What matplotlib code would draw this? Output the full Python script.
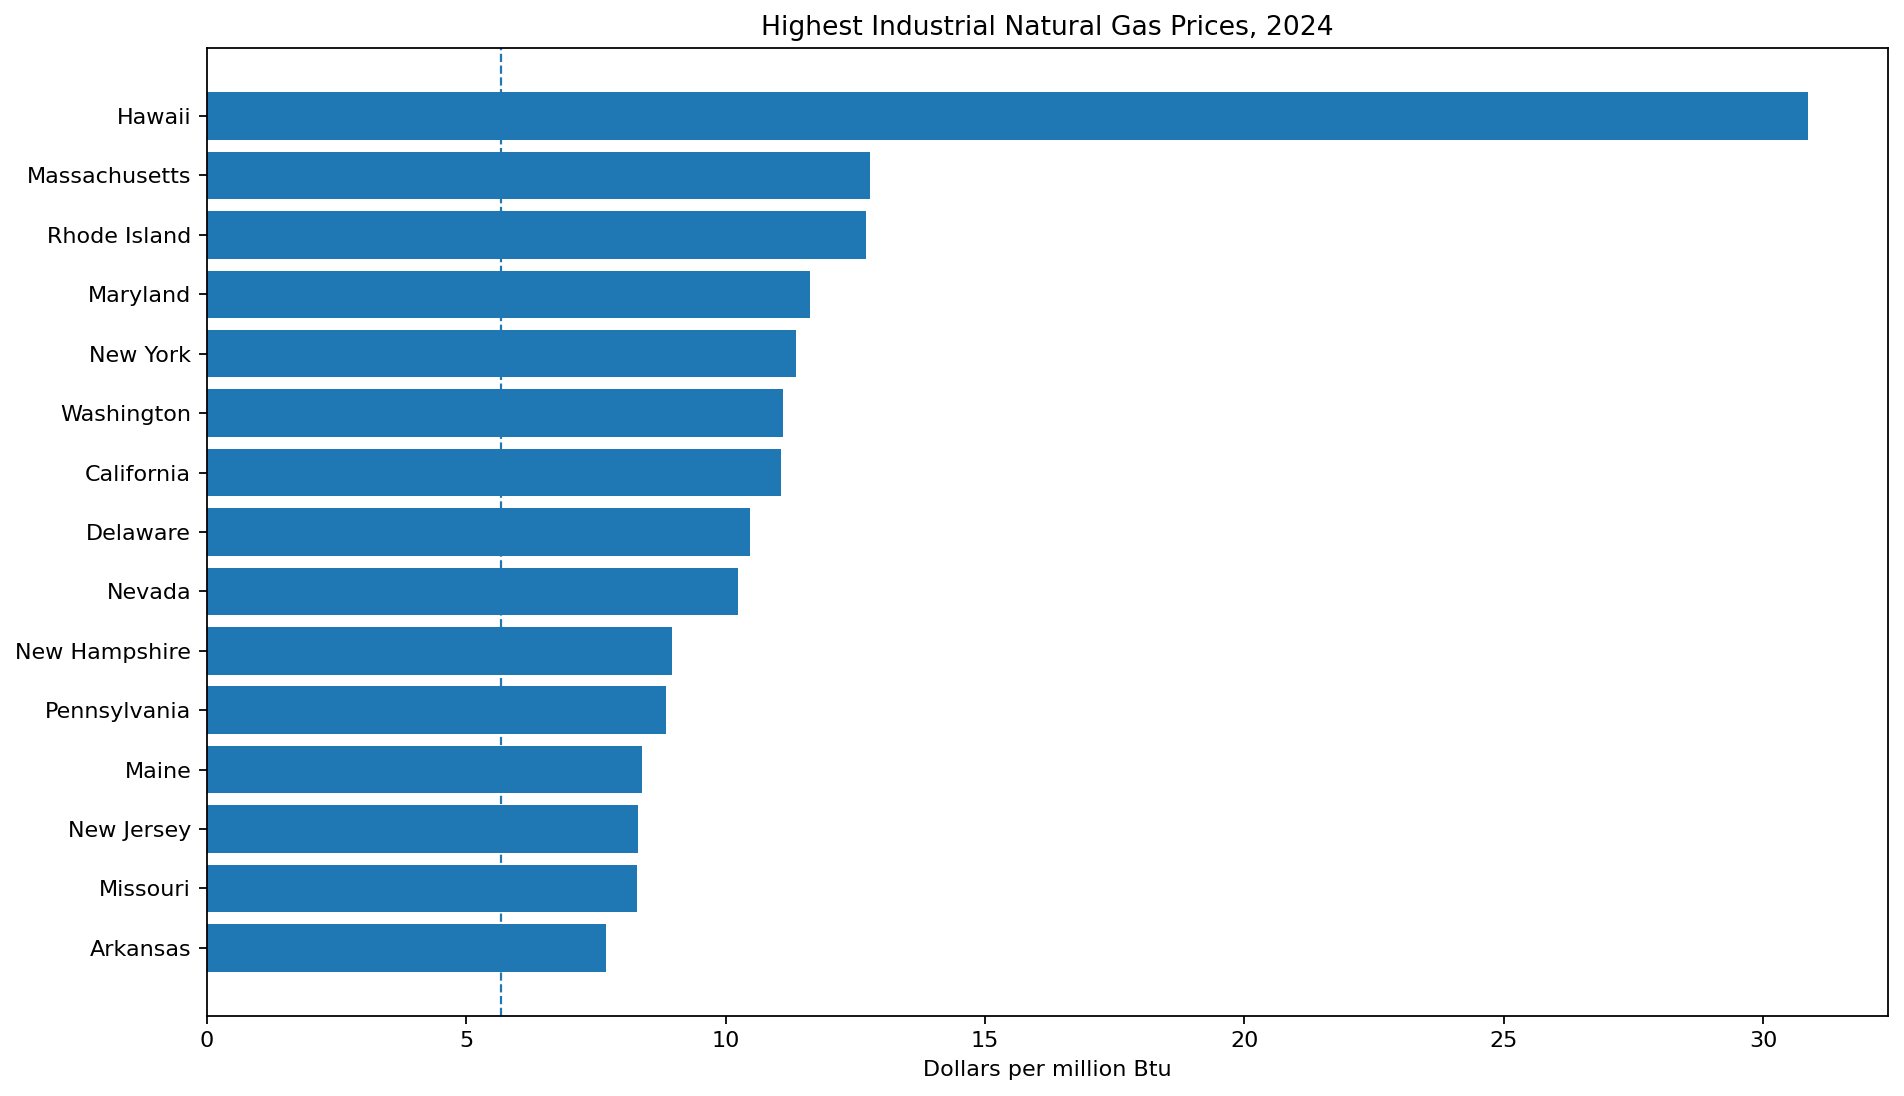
import matplotlib
matplotlib.use("Agg")
import matplotlib.pyplot as plt

states = ["Hawaii", "Massachusetts", "Rhode Island", "Maryland", "New York",
          "Washington", "California", "Delaware", "Nevada", "New Hampshire",
          "Pennsylvania", "Maine", "New Jersey", "Missouri", "Arkansas"]
prices = [30.87, 12.79, 12.70, 11.63, 11.36, 11.11, 11.07, 10.48, 10.24,
          8.97, 8.85, 8.39, 8.31, 8.29, 7.70]
us_average = 5.67

fig = plt.figure(figsize=(1904 / 160, 1096 / 160), dpi=160)
ax = fig.add_axes([0.1086, 0.0734, 0.9918 - 0.1086, 0.9559 - 0.0734])

ax.barh(states, prices, color="C0")
ax.axvline(us_average, color="C0", linestyle="--", linewidth=1, zorder=0)
ax.invert_yaxis()

ax.set_title("Highest Industrial Natural Gas Prices, 2024")
ax.set_xlabel("Dollars per million Btu")

fig.savefig("out.png", dpi=160)
